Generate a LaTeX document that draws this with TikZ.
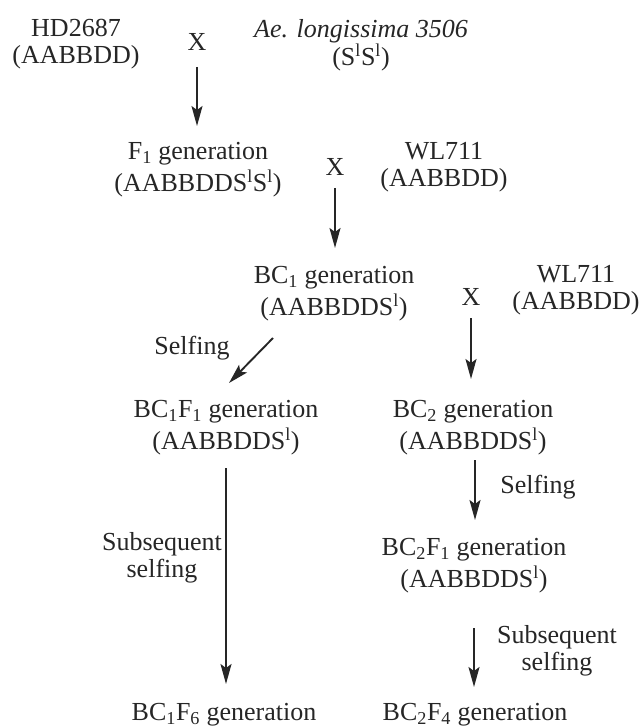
\documentclass[tikz,border=0pt]{standalone}
\usepackage{fontspec}
\setmainfont{Liberation Serif}
\usetikzlibrary{arrows.meta}
\begin{document}
\begin{tikzpicture}[x=1pt,y=-1pt,
  lbl/.style={inner sep=0pt,align=center,text=black!85,font=\fontsize{26}{27}\selectfont},
  gen/.style={lbl,font=\fontsize{26}{32}\selectfont},
  arr/.style={draw=black!85,line width=1.9pt,-{Stealth[length=20pt,width=11pt,inset=4pt]}}]
\useasboundingbox (0,0) rectangle (640,727);
\node[lbl] (hd) at (76,44) {HD2687\\(AABBDD)};
\node[lbl] (x1) at (197,42) {X};
\node[lbl] (ae) at (361,45) {\textit{Ae. longissima 3506}\\(S\textsuperscript{l}S\textsuperscript{l})};
\node[gen] (f1) at (198,170) {F\textsubscript{1} generation\\(AABBDDS\textsuperscript{l}S\textsuperscript{l})};
\node[lbl] (x2) at (335,167) {X};
\node[lbl] (wl1) at (444,167) {WL711\\(AABBDD)};
\node[gen] (bc1) at (334,294) {BC\textsubscript{1} generation\\(AABBDDS\textsuperscript{l})};
\node[lbl] (x3) at (471,297) {X};
\node[lbl] (wl2) at (576,290) {WL711\\(AABBDD)};
\node[lbl] (self1) at (192,348) {Selfing};
\node[gen] (bc1f1) at (226,428) {BC\textsubscript{1}F\textsubscript{1} generation\\(AABBDDS\textsuperscript{l})};
\node[gen] (bc2) at (473,428) {BC\textsubscript{2} generation\\(AABBDDS\textsuperscript{l})};
\node[lbl] (sub1) at (162,558) {Subsequent\\selfing};
\node[lbl] (self2) at (538,487) {Selfing};
\node[gen] (bc2f1) at (474,566) {BC\textsubscript{2}F\textsubscript{1} generation\\(AABBDDS\textsuperscript{l})};
\node[lbl] (sub2) at (557,651) {Subsequent\\selfing};
\node[lbl] (bc1f6) at (224,715) {BC\textsubscript{1}F\textsubscript{6} generation};
\node[lbl] (bc2f4) at (475,715) {BC\textsubscript{2}F\textsubscript{4} generation};
% arrow ends
\coordinate (a1s) at (197,67);  \coordinate (a1e) at (197,126);
\coordinate (a2s) at (335,188); \coordinate (a2e) at (335,248);
\coordinate (a3s) at (273,338); \coordinate (a3e) at (229,383);
\coordinate (a4s) at (471,318); \coordinate (a4e) at (471,379);
\coordinate (a5s) at (226,468); \coordinate (a5e) at (226,684);
\coordinate (a6s) at (475,460); \coordinate (a6e) at (475,520);
\coordinate (a7s) at (474,628); \coordinate (a7e) at (474,687);
\draw[arr] (a1s) -- (a1e);
\draw[arr] (a2s) -- (a2e);
\draw[arr] (a3s) -- (a3e);
\draw[arr] (a4s) -- (a4e);
\draw[arr] (a5s) -- (a5e);
\draw[arr] (a6s) -- (a6e);
\draw[arr] (a7s) -- (a7e);
\end{tikzpicture}
\end{document}
